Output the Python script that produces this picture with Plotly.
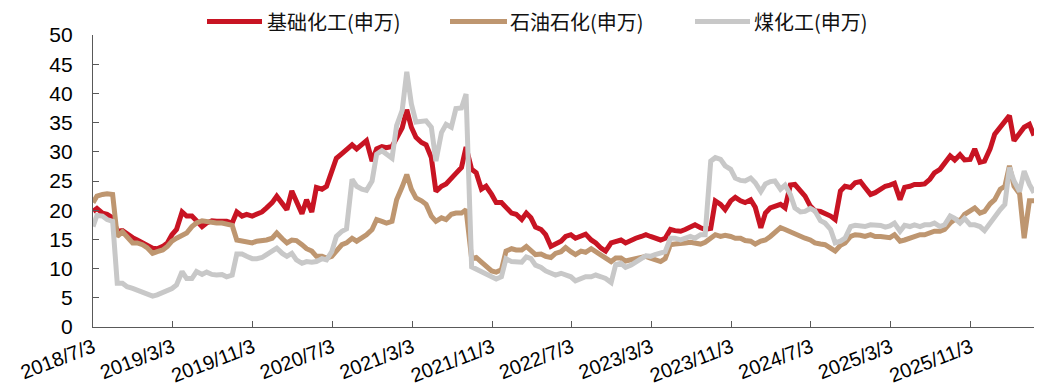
import pandas as pd
import plotly.graph_objects as go

# Semi-monthly sampling dates (1st and 15th of each month)
dates = pd.date_range("2018-07-01", "2026-05-15", freq="SMS")
dates = [d.strftime("%Y-%m-%d") for d in dates]
dates[0] = "2018-07-03"

# 基础化工(申万)
basic_chem = [
    19.8, 20.3, 19.5, 19.3, 18.7, 16.4, 16.5, 15.9, 15.3, 14.9, 14.5, 14.1,
    13.5, 13.4, 13.8, 14.4, 15.8, 16.7, 19.7, 19.0, 19.0, 18.2, 17.2, 17.8,
    18.2, 18.1, 18.2, 18.1, 17.8, 19.7, 19.0, 19.3, 19.0, 19.4, 19.7, 20.4,
    21.3, 22.4, 21.3, 20.1, 23.3, 21.6, 19.4, 21.8, 19.7, 23.9, 23.6, 24.1,
    27.0, 28.9, 29.7, 30.5, 31.2, 30.5, 31.4, 31.9, 28.4, 30.5, 30.9, 30.7,
    30.9, 32.2, 34.1, 37.2, 34.2, 32.5, 31.6, 31.2, 29.0, 23.2, 24.1, 24.5,
    25.6, 26.3, 27.3, 30.8, 27.0, 26.4, 23.6, 24.1, 22.7, 21.3, 21.3, 20.5,
    19.5, 19.3, 18.4, 19.5, 18.7, 17.1, 16.7, 15.8, 13.8, 14.2, 14.7, 15.5,
    15.8, 15.2, 15.5, 15.9, 14.9, 14.4, 13.5, 13.0, 14.4, 14.7, 14.9, 14.4,
    14.9, 15.2, 15.5, 15.8, 15.5, 15.2, 14.9, 15.2, 16.7, 16.5, 16.4, 16.7,
    17.2, 17.5, 17.0, 16.7, 16.9, 21.6, 21.0, 20.1, 21.6, 22.2, 21.6, 21.3,
    21.8, 20.5, 17.0, 19.5, 20.4, 20.7, 21.0, 20.4, 24.3, 24.4, 23.3, 22.4,
    20.7, 19.9, 19.8, 19.5, 19.0, 18.4, 23.3, 24.1, 23.9, 24.7, 24.9, 23.9,
    22.7, 23.0, 23.7, 24.1, 24.3, 24.6, 21.8, 23.9, 24.1, 24.4, 24.4, 24.5,
    25.3, 26.4, 27.0, 28.2, 29.3, 28.6, 29.5, 28.6, 28.7, 30.5, 28.2, 28.4,
    30.5, 33.0, 34.3, 35.1, 36.2, 31.9, 33.2, 34.2, 34.7, 32.8,
]

# 石油石化(申万)
petro_chem = [
    21.3, 22.4, 22.7, 22.8, 22.7, 15.5, 16.3, 15.3, 14.4, 14.4, 14.1, 13.6,
    12.6, 12.9, 13.2, 13.8, 14.7, 15.2, 15.8, 16.1, 17.2, 17.8, 18.2, 18.1,
    17.8, 17.8, 17.8, 17.6, 17.4, 14.9, 14.7, 14.7, 14.4, 14.7, 14.7, 14.9,
    15.2, 16.1, 15.1, 14.4, 14.9, 14.8, 14.1, 13.4, 13.0, 12.1, 12.1, 11.8,
    12.1, 13.0, 14.1, 14.4, 15.2, 14.7, 15.2, 15.8, 16.7, 18.4, 18.1, 17.8,
    18.1, 21.8, 24.0, 26.1, 23.6, 22.1, 21.6, 21.0, 19.0, 18.1, 18.7, 18.4,
    19.3, 19.5, 19.5, 20.1, 11.7, 11.9, 11.1, 10.5, 9.6, 9.4, 9.8, 13.0,
    13.4, 13.2, 13.2, 13.8, 13.0, 12.4, 12.5, 12.1, 11.9, 12.6, 12.9, 13.6,
    12.9, 12.4, 13.0, 12.8, 13.4, 12.9, 12.4, 11.8, 11.2, 11.8, 11.8, 11.3,
    11.5, 11.8, 11.9, 12.1, 11.8, 11.5, 11.2, 11.7, 14.1, 14.2, 14.4, 14.4,
    14.5, 14.4, 14.2, 14.5, 15.2, 15.8, 15.5, 15.7, 15.5, 15.2, 15.2, 14.8,
    14.7, 14.2, 14.7, 14.9, 15.5, 16.1, 17.0, 16.7, 16.3, 15.8, 15.5, 15.2,
    14.9, 14.4, 14.2, 14.1, 13.5, 13.0, 14.0, 14.4, 15.5, 15.8, 15.7, 15.5,
    15.8, 15.5, 15.5, 15.3, 15.3, 15.8, 14.7, 14.9, 15.2, 15.5, 15.8, 15.8,
    16.1, 16.4, 16.4, 16.7, 17.8, 18.4, 18.2, 19.3, 19.9, 20.4, 19.5, 19.8,
    21.1, 21.8, 23.6, 24.1, 27.6, 24.1, 22.8, 15.2, 21.6, 21.6,
]

# 煤化工(申万)
coal_chem = [
    17.2, 19.1, 19.0, 18.4, 18.1, 7.5, 7.5, 6.9, 6.6, 6.3, 6.0, 5.7,
    5.3, 5.5, 5.9, 6.1, 6.6, 7.2, 9.5, 8.3, 8.3, 9.5, 9.0, 9.4,
    9.0, 8.9, 9.0, 8.6, 8.9, 12.5, 12.5, 12.1, 11.7, 11.7, 11.9, 12.4,
    12.9, 13.5, 12.6, 12.1, 12.6, 11.5, 10.9, 11.2, 11.1, 11.2, 11.7, 11.5,
    12.9, 15.5, 16.4, 16.8, 25.3, 24.1, 23.6, 23.4, 25.0, 29.6, 30.2, 29.7,
    28.9, 34.5, 37.1, 43.7, 38.2, 35.1, 35.1, 35.3, 34.2, 28.4, 33.3, 34.7,
    34.2, 37.4, 37.5, 39.9, 10.3, 9.9, 9.5, 9.2, 8.6, 8.2, 8.6, 11.7,
    11.2, 11.1, 11.1, 12.0, 11.7, 10.6, 10.2, 9.6, 9.2, 8.9, 9.2, 8.9,
    8.6, 7.9, 8.3, 8.6, 8.6, 8.9, 8.6, 8.3, 7.6, 10.7, 10.9, 10.2,
    10.6, 11.2, 11.7, 12.2, 12.1, 12.4, 12.6, 12.9, 15.2, 15.2, 14.9, 15.2,
    15.5, 15.2, 15.8, 15.8, 28.4, 29.0, 28.7, 27.6, 27.0, 25.5, 25.1, 25.0,
    25.5, 24.7, 23.2, 24.5, 24.9, 25.0, 23.6, 24.3, 22.7, 20.4, 19.7, 19.8,
    20.3, 19.9, 18.2, 17.8, 16.7, 14.4, 14.7, 15.2, 17.2, 17.4, 17.4, 17.2,
    17.5, 17.5, 17.4, 17.1, 17.3, 17.8, 16.4, 17.4, 17.2, 17.5, 17.2, 17.5,
    17.5, 17.8, 17.2, 17.5, 19.0, 18.6, 17.8, 18.6, 17.5, 17.5, 17.2, 16.5,
    17.8, 19.0, 20.1, 21.0, 27.3, 25.0, 23.2, 26.7, 24.4, 23.0,
]

series_names = ["基础化工(申万)", "石油石化(申万)", "煤化工(申万)"]
series_colors = ["#C81423", "#BE9670", "#C8C8C8"]

tick_dates = ["2018-07-03", "2019-03-03", "2019-11-03", "2020-07-03", "2021-03-03",
              "2021-11-03", "2022-07-03", "2023-03-03", "2023-11-03", "2024-07-03",
              "2025-03-03", "2025-11-03"]
tick_labels = ["2018/7/3", "2019/3/3", "2019/11/3", "2020/7/3", "2021/3/3",
               "2021/11/3", "2022/7/3", "2023/3/3", "2023/11/3", "2024/7/3",
               "2025/3/3", "2025/11/3"]

W, H = 1040, 389
ML, MR, MT, MB = 93, 6, 35, 62
PW, PH = W - ML - MR, H - MT - MB

fig = go.Figure()
for name, vals, color in zip(series_names, [basic_chem, petro_chem, coal_chem], series_colors):
    fig.add_trace(go.Scatter(x=dates, y=vals, mode="lines", name=name,
                             line=dict(color=color, width=5), showlegend=False))


def px_x(p):
    return (p - ML) / PW


def px_y(p):
    return (H - MB - p) / PH


# Legend drawn as line samples with text labels above the plot
legend_items = [(207, 262, 265), (450, 507, 508), (695, 750, 752)]
leg_y = 21.5
for (x0, x1, xt), name, color in zip(legend_items, series_names, series_colors):
    fig.add_shape(type="line", xref="paper", yref="paper",
                  x0=px_x(x0), x1=px_x(x1), y0=px_y(leg_y), y1=px_y(leg_y),
                  line=dict(color=color, width=5))
    fig.add_annotation(text=name, xref="paper", yref="paper", x=px_x(xt), y=px_y(leg_y),
                       xanchor="left", yanchor="middle", showarrow=False,
                       font=dict(family="Noto Sans CJK SC", size=20, color="#111111"))

axis_color = "#595959"
fig.update_layout(
    width=W, height=H,
    margin=dict(l=ML, r=MR, t=MT, b=MB, pad=0, autoexpand=False),
    plot_bgcolor="white", paper_bgcolor="white",
    font=dict(family="Liberation Sans, Arial, sans-serif", size=20, color="#000000"),
    xaxis=dict(
        type="date", range=["2018-07-03", "2026-05-15"],
        tickmode="array", tickvals=tick_dates, ticktext=tick_labels,
        tickangle=-21, ticks="inside", ticklen=6, tickcolor=axis_color,
        showline=True, linecolor=axis_color, linewidth=1.3,
        showgrid=False, zeroline=False, ticklabelstandoff=0,
        tickfont=dict(size=20), automargin=False,
    ),
    yaxis=dict(
        range=[0, 50], dtick=5, tick0=0,
        ticks="inside", ticklen=6, tickcolor=axis_color,
        showline=True, linecolor=axis_color, linewidth=1.3,
        showgrid=False, zeroline=False, ticklabelstandoff=15,
        tickfont=dict(size=21), automargin=False,
    ),
)

fig.write_html("out.html")
